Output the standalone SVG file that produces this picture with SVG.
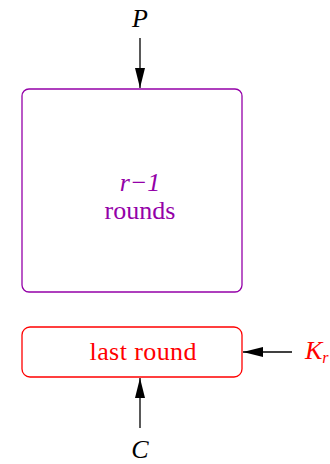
<svg xmlns="http://www.w3.org/2000/svg" width="330" height="464" viewBox="0 0 330 464">
<style>
text{font-family:"Liberation Serif","Times New Roman",serif;font-size:26px}
.it{font-style:italic}
.pu{fill:#9400a8}
.rd{fill:#ff0000}
.ln{stroke:#000;stroke-width:1.3;fill:none}
</style>
<defs>
<marker id="ah" markerWidth="20" markerHeight="10" refX="20" refY="5" orient="auto" markerUnits="userSpaceOnUse" viewBox="0 0 20 10">
<path d="M0,0 L20,5 L0,10 z" fill="#000"/>
</marker>
</defs>
<rect width="330" height="464" fill="#fff"/>
<g id="rounds">
<rect x="22" y="89" width="220" height="203" rx="7" fill="none" stroke="#9400a8" stroke-width="1.3"/>
<text x="140" y="191" text-anchor="middle" class="it pu">r−1</text>
<text x="140" y="219" text-anchor="middle" class="pu">rounds</text>
</g>
<g id="last">
<rect x="22" y="327" width="220" height="50" rx="8" fill="none" stroke="#ff0000" stroke-width="1.3"/>
<text x="143" y="360" text-anchor="middle" class="rd" textLength="107">last round</text>
</g>
<g id="P"><text x="140" y="27" text-anchor="middle" class="it">P</text></g>
<g id="C"><text x="140" y="458" text-anchor="middle" class="it">C</text></g>
<g id="K"><text x="305" y="359" class="it rd">K<tspan font-size="16" dy="4">r</tspan></text></g>
<g id="connectors">
<path class="ln" d="M140,38 V88" marker-end="url(#ah)"/>
<path class="ln" d="M140,428 V378" marker-end="url(#ah)"/>
<path class="ln" d="M292,352 H243" marker-end="url(#ah)"/>
</g>
</svg>
